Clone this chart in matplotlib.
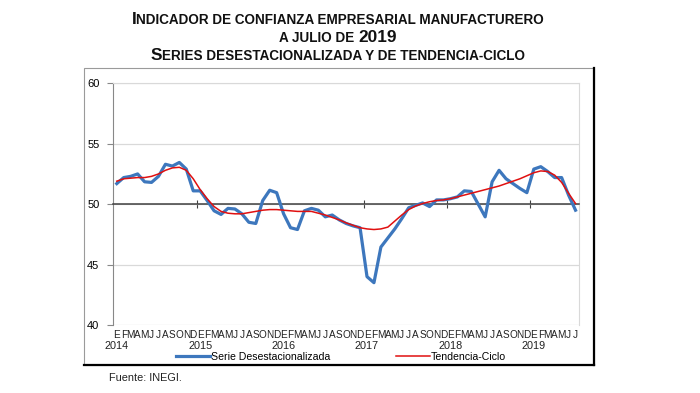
import numpy as np
import matplotlib
matplotlib.use("Agg")
import matplotlib.pyplot as plt
from matplotlib.lines import Line2D
from matplotlib.patches import Rectangle
from matplotlib.offsetbox import TextArea, HPacker, AnchoredOffsetbox
import matplotlib.transforms as mtransforms

plt.rcParams['font.family'] = ['Liberation Sans', 'DejaVu Sans']

# data: monthly, Jan 2014 - Jul 2019
meses = ['E', 'F', 'M', 'A', 'M', 'J', 'J', 'A', 'S', 'O', 'N', 'D']
anios = [2014, 2015, 2016, 2017, 2018, 2019]
serie = [51.7, 52.2, 52.3, 52.5, 51.85, 51.8, 52.3, 53.3, 53.15, 53.45, 52.9, 51.1,
         51.1, 50.3, 49.45, 49.15, 49.65, 49.6, 49.2, 48.5, 48.4, 50.3, 51.15, 50.95,
         49.2, 48.05, 47.9, 49.45, 49.65, 49.5, 48.95, 49.1, 48.7, 48.4, 48.2, 48.05,
         44.0, 43.5, 46.45, 47.2, 47.95, 48.8, 49.7, 49.9, 50.1, 49.8, 50.35, 50.35,
         50.45, 50.6, 51.1, 51.05, 50.0, 48.95, 51.85, 52.8, 52.1, 51.7, 51.3, 50.95,
         52.9, 53.1, 52.7, 52.2, 52.2, 50.75, 49.5]
tendencia = [51.9, 52.1, 52.15, 52.2, 52.2, 52.3, 52.5, 52.8, 53.0, 53.05, 52.8, 52.1,
             51.2, 50.45, 49.8, 49.4, 49.25, 49.2, 49.2, 49.3, 49.4, 49.5, 49.55, 49.55,
             49.5, 49.45, 49.4, 49.4, 49.4, 49.25, 49.1, 48.9, 48.7, 48.45, 48.25, 48.05,
             47.95, 47.9, 47.95, 48.1, 48.6, 49.1, 49.55, 49.85, 50.05, 50.2, 50.3, 50.35,
             50.45, 50.6, 50.75, 50.9, 51.05, 51.2, 51.35, 51.5, 51.7, 51.9, 52.1, 52.35,
             52.6, 52.75, 52.7, 52.4, 51.8, 50.9, 50.05]

x = np.arange(len(serie))
azul = '#3d77bd'
rojo = '#e01010'

fig = plt.figure(figsize=(7, 3.93), dpi=100)
W, H = 700, 393
ax = fig.add_axes([113.3 / W, 1 - 325 / H, (579 - 113.3) / W, (325 - 83.3) / H])

ax.plot(x, serie, color=azul, lw=2.3, zorder=3)
ax.plot(x, tendencia, color=rojo, lw=1.1, zorder=4)

ax.set_xlim(-0.5, len(serie) - 0.5)
ax.set_ylim(40, 60)
ax.set_yticks([40, 45, 50, 55, 60])
ax.tick_params(axis='y', direction='out', length=4, color='#888888', labelsize=8, pad=6)
ax.grid(axis='y', color='#d9d9d9', lw=0.9, zorder=0)
for s in ['top', 'right']:
    ax.spines[s].set_color('#d9d9d9')
ax.spines['left'].set_color('#888888')

# x axis crossing at 50, year-boundary ticks
ax.spines['bottom'].set_position(('data', 50))
ax.spines['bottom'].set_color('#404040')
ax.spines['bottom'].set_linewidth(1.1)
ax.set_xticks(np.arange(11.5, len(serie), 12))
ax.set_xticklabels([])
ax.tick_params(axis='x', direction='inout', length=6, color='#404040')

# month and year labels
trans = mtransforms.blended_transform_factory(ax.transData, fig.transFigure)
for i in x:
    ax.text(i, 1 - 335 / H, meses[i % 12], transform=trans, ha='center', va='center',
            fontsize=7.2, color='#222222')
for k, a in enumerate(anios):
    ax.text(k * 12, 1 - 346 / H, str(a), transform=trans, ha='center', va='center',
            fontsize=7.8, color='#222222')

# title in small caps style
def linea(partes, yc):
    cajas = [TextArea(t, textprops=dict(fontsize=s, fontweight='bold', color='#111111'))
             for t, s in partes]
    caja = HPacker(children=cajas, align='baseline', pad=0, sep=0)
    ab = AnchoredOffsetbox(loc='center', child=caja, frameon=False, pad=0, borderpad=0,
                           bbox_to_anchor=(338 / W, 1 - yc / H),
                           bbox_transform=fig.transFigure)
    fig.add_artist(ab)

g, p = 12.4, 9.75
linea([('I', g), ('NDICADOR DE CONFIANZA EMPRESARIAL MANUFACTURERO', p)], 19)
linea([('A JULIO DE ', p), ('2019', g)], 37.5)
linea([('S', g), ('ERIES DESESTACIONALIZADA Y DE TENDENCIA-CICLO', p)], 56)

# outer frame
fig.add_artist(Rectangle((84 / W, 1 - 365 / H), (594 - 84) / W, (365 - 68) / H,
                         transform=fig.transFigure, fill=False, ec='#9a9a9a', lw=0.8))
fig.add_artist(Line2D([84 / W, 594 / W], [1 - 365 / H, 1 - 365 / H],
                      transform=fig.transFigure, color='black', lw=1.6))
fig.add_artist(Line2D([594 / W, 594 / W], [1 - 365 / H, 1 - 68 / H],
                      transform=fig.transFigure, color='black', lw=1.6))

# legend
handles = [Line2D([], [], color=azul, lw=2.3), Line2D([], [], color=rojo, lw=1.1)]
fig.legend(handles, ['Serie Desestacionalizada', 'Tendencia-Ciclo'], loc='center',
           bbox_to_anchor=(341 / W, 1 - 357 / H), ncol=2, frameon=False, fontsize=7.6,
           handlelength=3.2, handletextpad=0.1, columnspacing=6.3, borderpad=0)

fig.text(109 / W, 1 - 378 / H, 'Fuente: INEGI.', fontsize=7.8, va='center', color='#222222')

fig.savefig('out.png', dpi=100)
